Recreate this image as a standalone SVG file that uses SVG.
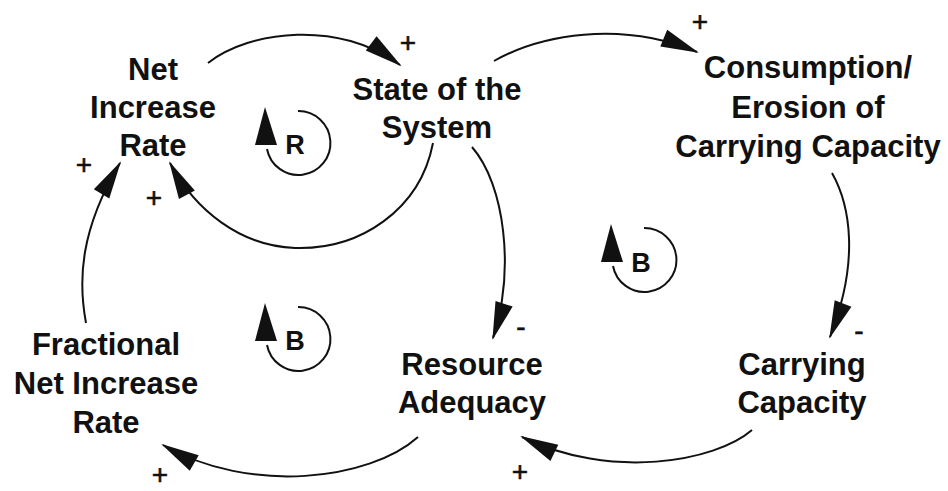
<svg xmlns="http://www.w3.org/2000/svg" xmlns:xlink="http://www.w3.org/1999/xlink" width="948" height="491" viewBox="0 0 948 491">
<style>
.lbl{font-family:"Liberation Sans",Arial,Helvetica,sans-serif;font-weight:bold;font-size:31px;fill:#111111;text-anchor:middle}
.pol{font-family:"Liberation Sans",Arial,Helvetica,sans-serif;font-size:28px;fill:#111111;stroke:#111111;stroke-width:0.6;text-anchor:middle}
.loopl{font-family:"Liberation Sans",Arial,Helvetica,sans-serif;font-weight:bold;font-size:27px;fill:#111111;text-anchor:middle}
.link{fill:none;stroke:#111111;stroke-width:2;marker-end:url(#ah)}
.arc{fill:none;stroke:#111111;stroke-width:2}
</style>
<defs>
<marker id="ah" markerUnits="userSpaceOnUse" viewBox="0 0 38 18" markerWidth="38" markerHeight="18" refX="36" refY="9" orient="auto" overflow="visible">
<path d="M0,0 L38,9 L0,18 z" fill="#111111"/>
</marker>
<g id="loop">
<path class="arc" d="M0,-32 A32,32 0 1 1 -31,6"/>
<polygon points="-33,-36 -43,2 -21,2" fill="#111111"/>
</g>
</defs>
<rect width="948" height="491" fill="#ffffff"/>
<g id="connectors">
<path class="link" d="M208,63 C250,30 340,20 400,65"/>
<path class="link" d="M494,61 C540,35 620,20 697,52"/>
<path class="link" d="M433,143 C420,210 360,250 295,248 C240,246 195,210 170,163"/>
<path class="link" d="M86,323 C78,280 80,230 120,163"/>
<path class="link" d="M472,147 C505,185 515,270 493,338"/>
<path class="link" d="M832,173 C850,205 860,260 830,337"/>
<path class="link" d="M752,430 C715,462 610,480 522,437"/>
<path class="link" d="M418,437 C370,480 250,495 163,445"/>
</g>
<g id="polarities">
<text class="pol" x="408" y="52">+</text>
<text class="pol" x="700" y="31">+</text>
<text class="pol" x="154" y="207">+</text>
<text class="pol" x="84" y="174">+</text>
<text class="pol" x="521" y="336">-</text>
<text class="pol" x="859" y="340">-</text>
<text class="pol" x="520" y="481">+</text>
<text class="pol" x="160" y="484">+</text>
</g>
<g id="loop-R">
<use xlink:href="#loop" x="298" y="143"/>
<text class="loopl" x="295" y="154">R</text>
</g>
<g id="loop-B1">
<use xlink:href="#loop" x="298" y="339"/>
<text class="loopl" x="295" y="350">B</text>
</g>
<g id="loop-B2">
<use xlink:href="#loop" x="644" y="260"/>
<text class="loopl" x="641" y="272">B</text>
</g>
<g id="net-increase-rate">
<text class="lbl" x="153" y="80">Net</text>
<text class="lbl" x="153" y="118">Increase</text>
<text class="lbl" x="153" y="156">Rate</text>
</g>
<g id="state-of-the-system">
<text class="lbl" x="437" y="100">State of the</text>
<text class="lbl" x="437" y="138">System</text>
</g>
<g id="consumption">
<text class="lbl" x="808" y="78">Consumption/</text>
<text class="lbl" x="808" y="118">Erosion of</text>
<text class="lbl" x="808" y="157">Carrying Capacity</text>
</g>
<g id="fractional-net-increase-rate">
<text class="lbl" x="106" y="355">Fractional</text>
<text class="lbl" x="106" y="394">Net Increase</text>
<text class="lbl" x="106" y="433">Rate</text>
</g>
<g id="resource-adequacy">
<text class="lbl" x="472" y="375">Resource</text>
<text class="lbl" x="472" y="413">Adequacy</text>
</g>
<g id="carrying-capacity">
<text class="lbl" x="802" y="375">Carrying</text>
<text class="lbl" x="802" y="413">Capacity</text>
</g>
</svg>
